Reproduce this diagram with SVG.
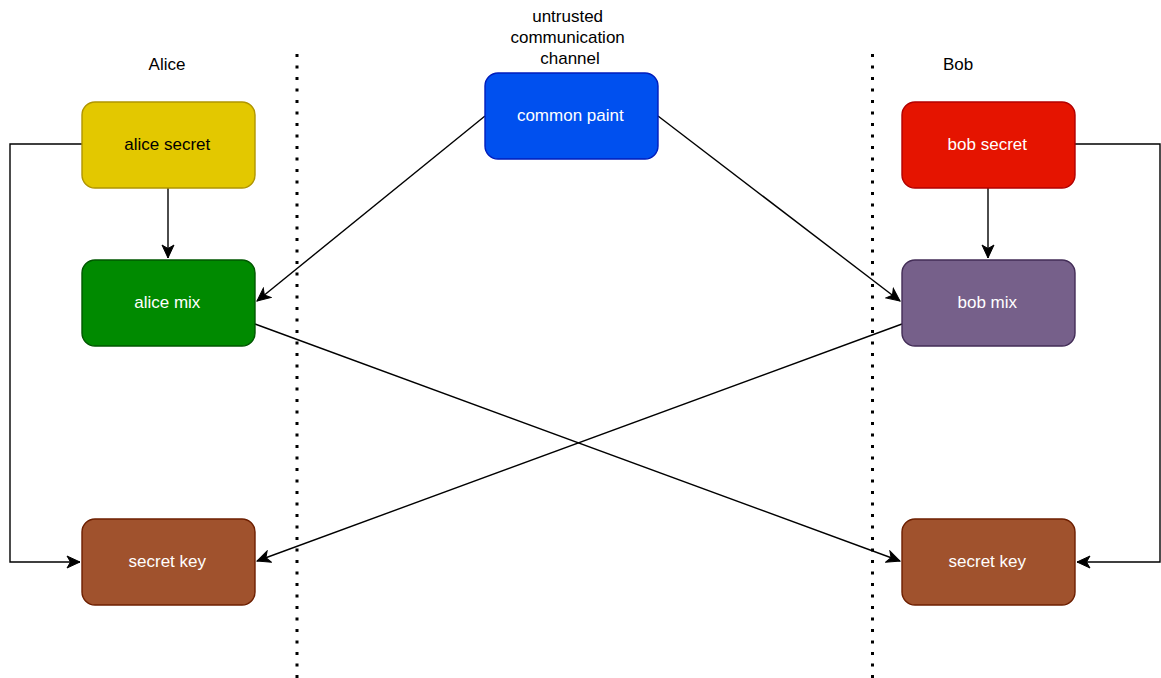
<svg xmlns="http://www.w3.org/2000/svg" width="1161" height="678" viewBox="0 0 1161 678">
  <style>
    .lbl { font-family: "Liberation Sans", Arial, sans-serif; font-size: 17px; text-anchor: middle; dominant-baseline: central; }
    .box { stroke-width: 1.4; }
    .edge { fill: none; stroke: #000; stroke-width: 1.4; }
    .divider { stroke: #000; stroke-width: 3; stroke-dasharray: 3 8.5; }
  </style>
  <defs>
    <marker id="arrow" markerUnits="userSpaceOnUse" markerWidth="16" markerHeight="14" viewBox="-14 -7 16 14" refX="0" refY="0" orient="auto">
      <path d="M0,0 L-13,-6 L-9.5,0 L-13,6 Z" fill="#000" stroke="#000" stroke-width="1"/>
    </marker>
  </defs>
  <rect width="1161" height="678" fill="#fff"/>

  <!-- dividers between parties -->
  <line class="divider" x1="297" y1="54" x2="297" y2="678"/>
  <line class="divider" x1="872.5" y1="54" x2="872.5" y2="678"/>

  <!-- headings -->
  <text class="lbl" x="167" y="64.5" fill="#000">Alice</text>
  <text class="lbl" x="958" y="64.5" fill="#000">Bob</text>
  <text class="lbl" fill="#000">
    <tspan x="570" y="15.5">untrusted</tspan>
    <tspan x="570" y="36.5">communication</tspan>
    <tspan x="570" y="57.5">channel</tspan>
  </text>

  <!-- connectors -->
  <g id="connectors">
    <path class="edge" d="M82,144 H10 V562 H80" marker-end="url(#arrow)"/>
    <path class="edge" d="M168,188 V258" marker-end="url(#arrow)"/>
    <path class="edge" d="M485,116 L257,301" marker-end="url(#arrow)"/>
    <path class="edge" d="M658,116 L900,301" marker-end="url(#arrow)"/>
    <path class="edge" d="M988,188 V258" marker-end="url(#arrow)"/>
    <path class="edge" d="M1075,144 H1160 V562 H1077" marker-end="url(#arrow)"/>
    <path class="edge" d="M255,324 L900,561" marker-end="url(#arrow)"/>
    <path class="edge" d="M902,324 L257,561" marker-end="url(#arrow)"/>
  </g>

  <!-- nodes -->
  <g id="alice-secret">
    <rect class="box" x="82" y="102" width="173" height="86" rx="13" fill="#e3c800" stroke="#b09500"/>
    <text class="lbl" x="167.3" y="144" fill="#000">alice secret</text>
  </g>
  <g id="alice-mix">
    <rect class="box" x="82" y="260" width="173" height="86" rx="13" fill="#008a00" stroke="#005700"/>
    <text class="lbl" x="167.3" y="302" fill="#fff">alice mix</text>
  </g>
  <g id="alice-key">
    <rect class="box" x="82" y="519" width="173" height="86" rx="13" fill="#a0522d" stroke="#6d1f00"/>
    <text class="lbl" x="167.3" y="561" fill="#fff">secret key</text>
  </g>
  <g id="common-paint">
    <rect class="box" x="485" y="73" width="173" height="86" rx="13" fill="#0050ef" stroke="#001dbc"/>
    <text class="lbl" x="570.3" y="115" fill="#fff">common paint</text>
  </g>
  <g id="bob-secret">
    <rect class="box" x="902" y="102" width="173" height="86" rx="13" fill="#e51400" stroke="#b20000"/>
    <text class="lbl" x="987.3" y="144" fill="#fff">bob secret</text>
  </g>
  <g id="bob-mix">
    <rect class="box" x="902" y="260" width="173" height="86" rx="13" fill="#76608a" stroke="#432d57"/>
    <text class="lbl" x="987.3" y="302" fill="#fff">bob mix</text>
  </g>
  <g id="bob-key">
    <rect class="box" x="902" y="519" width="173" height="86" rx="13" fill="#a0522d" stroke="#6d1f00"/>
    <text class="lbl" x="987.3" y="561" fill="#fff">secret key</text>
  </g>
</svg>
